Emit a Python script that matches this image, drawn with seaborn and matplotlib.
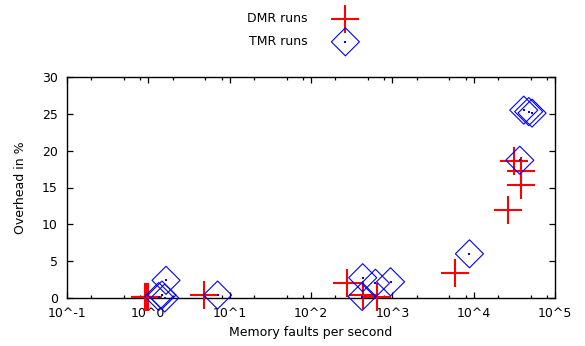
import matplotlib
matplotlib.use("Agg")
import matplotlib.pyplot as plt
from matplotlib.ticker import FixedLocator, FixedFormatter, LogLocator, NullFormatter
import seaborn as sns

# DMR runs (red crosses)
dmr_faults = [0.92, 0.96, 1.0, 4.8, 280, 430, 650, 5970, 26100, 31100, 37700, 38400]
dmr_overhead = [0.2, 0.2, 0.2, 0.4, 2.1, 0.4, 0.2, 3.4, 11.9, 18.6, 15.4, 17.2]

# TMR runs (blue diamonds)
tmr_faults = [1.34, 1.47, 1.59, 1.65, 7.1, 425, 432, 620, 950, 8870, 36900, 41300, 47500, 52200]
tmr_overhead = [0.2, 0.4, 0.0, 2.4, 0.4, 0.2, 2.75, 2.0, 2.2, 6.0, 18.7, 25.5, 25.3, 25.1]

xtick_values = [0.1, 1, 10, 100, 1000, 10000, 100000]
xtick_labels = ["10^-1", "10^0", "10^1", "10^2", "10^3", "10^4", "10^5"]
ytick_values = [0, 5, 10, 15, 20, 25, 30]

sns.set_style("ticks")
plt.rcParams['font.family'] = ['DejaVu Sans']
plt.rcParams['font.size'] = 9
plt.rcParams['text.color'] = 'black'
plt.rcParams['axes.labelcolor'] = 'black'
plt.rcParams['xtick.color'] = 'black'
plt.rcParams['ytick.color'] = 'black'

fig = plt.figure(figsize=(5.85, 3.46), dpi=100)
ax = fig.add_axes([67 / 585, 48 / 346, 488 / 585, 221 / 346])

sns.scatterplot(x=dmr_faults, y=dmr_overhead, marker='+', s=435, color='red',
                linewidth=1.5, ax=ax, label='DMR runs', legend=False,
                zorder=3, clip_on=False)
sns.scatterplot(x=tmr_faults, y=tmr_overhead, marker='D', s=204, color='blue',
                facecolors='none', edgecolor='blue', linewidth=0.8, ax=ax,
                label='TMR runs', legend=False, zorder=4, clip_on=False)
# small dot in the centre of each diamond
sns.scatterplot(x=tmr_faults, y=tmr_overhead, marker='s', s=1.5, color='blue',
                linewidth=0, ax=ax, legend=False, zorder=4, clip_on=False)

ax.set_xscale('log')
ax.set_xlim(0.1, 100000)
ax.set_ylim(0, 30)
ax.xaxis.set_major_locator(FixedLocator(xtick_values))
ax.xaxis.set_major_formatter(FixedFormatter(xtick_labels))
ax.xaxis.set_minor_locator(LogLocator(base=10, subs=[2, 5, 8], numticks=20))
ax.xaxis.set_minor_formatter(NullFormatter())
ax.set_yticks(ytick_values)

for side in ['top', 'bottom', 'left', 'right']:
    ax.spines[side].set_color('black')
    ax.spines[side].set_linewidth(1.0)
ax.tick_params(which='major', direction='in', top=True, right=True,
               length=4.3, width=0.9, pad=6.5, labelsize=9, colors='black')
ax.tick_params(axis='x', which='minor', direction='in', top=True, bottom=True,
               length=2.5, width=0.9)
ax.tick_params(axis='y', which='minor', left=False, right=False)

ax.set_xlabel('Memory faults per second', fontsize=9)
ax.set_ylabel('Overhead in %', fontsize=9)
ax.xaxis.set_label_coords(0.5, -0.125)
ax.yaxis.set_label_coords(-0.082, 0.5)

coll = ax.collections
fig.legend(handles=[coll[0], (coll[1], coll[2])], labels=['DMR runs', 'TMR runs'],
           loc='center', bbox_to_anchor=(0.528, 0.913), frameon=False,
           markerfirst=False, handlelength=4, handletextpad=1.0,
           labelspacing=0.8, scatterpoints=1, fontsize=9)

fig.savefig('out.png', dpi=100)
